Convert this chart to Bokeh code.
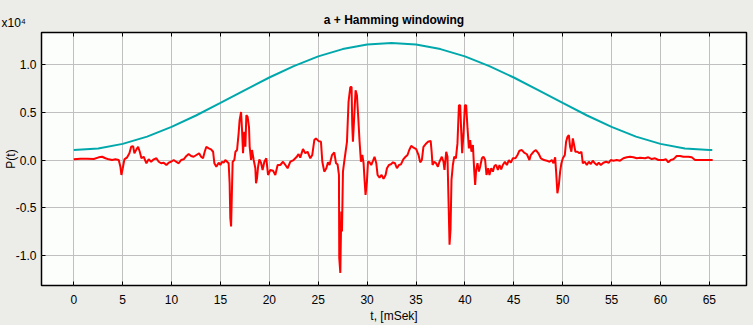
from bokeh.plotting import figure
from bokeh.models import Range1d, FixedTicker, CustomJSTickFormatter, LinearAxis, Title
from bokeh.embed import file_html
from bokeh.resources import INLINE

# ---- data ----
x_ticks = [0, 5, 10, 15, 20, 25, 30, 35, 40, 45, 50, 55, 60, 65]
y_ticks = [-10000, -5000, 0, 5000, 10000]

# Hamming window envelope
t_win = [0, 2.5, 5, 7.5, 10, 12.5, 15, 17.5, 20, 22.5, 25, 27.5, 30, 32.5,
         35, 37.5, 40, 42.5, 45, 47.5, 50, 52.5, 55, 57.5, 60, 62.5, 65, 65.3]
p_win = [1040, 1200, 1680, 2440, 3450, 4640, 5950, 7290, 8600, 9790, 10800, 11560, 12040, 12200,
         12040, 11560, 10800, 9790, 8600, 7290, 5950, 4640, 3450, 2440, 1680, 1200, 1040, 1040]

# windowed signal in segments
t_a = [0.00, 0.68, 1.37, 2.04, 2.55, 2.90, 3.24, 3.58, 3.92, 4.26,
       4.60, 4.77, 4.87, 5.01, 5.18, 5.46, 5.69, 5.87, 6.07, 6.20,
       6.41, 6.58, 6.75, 6.92, 7.15, 7.43, 7.66, 7.91, 8.18, 8.45,
       8.69, 8.93, 9.20, 9.47, 9.71, 9.95, 10.22, 10.46, 10.73, 10.98,
       11.24, 11.52, 11.75, 12.00, 12.26, 12.54, 12.82, 13.02, 13.22, 13.39,
       13.56, 13.80, 14.04, 14.25, 14.38, 14.58, 14.82, 14.99, 15.17, 15.33,
       15.50, 15.68, 15.84]
p_a = [70, 130, 130, 100, 280, 340, 180, 70, 0, 70,
       0, -700, -1560, -860, 70, 280, 700, 1380, 1450, 700,
       1110, 1380, 860, 180, 340, -340, 70, -180, 70, 180,
       -180, -340, -280, -520, -280, -180, 0, -180, -340, 0,
       70, 420, 620, 420, 340, 520, 700, 340, 180, 860,
       1380, 1210, 1110, 860, -340, -700, -280, -520, -180, -280,
       0, -180, -340]

t_b = [15.94, 16.01, 16.09, 16.19, 16.25, 16.42, 16.53, 16.70, 16.86, 16.96,
       17.11, 17.21, 17.31, 17.44, 17.55, 17.65, 17.78, 17.92, 17.99, 18.13,
       18.23, 18.40, 18.57, 18.64, 18.74, 18.85, 18.98, 19.15, 19.31, 19.49,
       19.69, 19.87, 20.10, 20.38, 20.61, 20.85, 21.12, 21.40, 21.64, 21.87,
       22.15, 22.48, 22.76, 22.99, 23.16]
p_b = [-2420, -6050, -6920, -2600, -180, 0, 860, 1040, 2770, 4150,
       5010, 3110, 700, 2940, 1380, 4670, 4500, 3460, 1380, 0,
       1040, 0, -860, -2420, -1900, -700, 70, -280, -1040, -180,
       180, -1560, -1040, -1110, -1560, -520, -520, -180, -520, -860,
       -180, 0, 280, 620, 250]

t_c = [23.44, 23.68, 23.91, 24.19, 24.39, 24.60, 24.77, 25.04, 25.28, 25.42,
       25.62, 25.83, 26.00, 26.16, 26.41, 26.64, 26.82, 26.98, 27.12, 27.15,
       27.26, 27.36, 27.43, 27.53, 27.66, 27.80, 27.94, 28.10, 28.28, 28.41,
       28.48, 28.55, 28.69, 28.82, 28.96, 29.10, 29.23, 29.37, 29.51, 29.64,
       29.74, 29.84, 29.98, 30.09, 30.25, 30.42, 30.60, 30.76, 30.94, 31.07,
       31.27, 31.48, 31.68, 31.89, 32.03, 32.23, 32.44, 32.64, 32.85, 33.05,
       33.26, 33.46, 33.72, 33.93, 34.13, 34.31, 34.51, 34.75, 35.02, 35.26,
       35.43]
p_c = [1140, 700, 860, 180, 520, 2080, 2250, 1970, 1900, -180,
       -1210, -860, -240, -520, 520, 800, -340, -450, -1560, -10210,
       -11770, -5370, -7440, -1210, -180, 860, 1900, 6050, 7610, 7610,
       3630, 1900, 4670, 7270, 6750, 4330, 1900, -180, 520, -340,
       -2080, -3630, -2250, -180, -240, -520, -100, 340, -340, -1560,
       -1840, -1560, -1970, -1560, -860, -520, -450, -240, -340, -860,
       -520, -450, 100, 340, 520, 1040, 1480, 1280, 1140, 520,
       -240]

t_d = [35.60, 35.76, 35.99, 36.23, 36.50, 36.60, 36.69, 36.86, 37.06, 37.24,
       37.40, 37.64, 37.81, 37.91, 38.09, 38.22, 38.32, 38.43, 38.53, 38.63,
       38.77, 38.91, 39.08, 39.24, 39.39, 39.52, 39.62, 39.72, 39.86, 40.00,
       40.13, 40.27, 40.41, 40.54, 40.67, 40.82, 40.95, 41.05, 41.15, 41.29,
       41.43, 41.56, 41.74, 41.90, 42.07, 42.21, 42.38, 42.51, 42.69, 42.86,
       43.02, 43.20, 43.37, 43.54, 43.71, 43.88, 44.09, 44.29, 44.50, 44.70,
       44.91, 45.17, 45.38, 45.58, 45.83, 46.06, 46.34, 46.60]
p_d = [0, 1380, 1660, 1900, 2000, 860, -520, -180, -340, -700,
       -180, 340, -180, -1040, 860, 340, -3980, -8830, -7270, -2080,
       -520, 340, 180, 1730, 5710, 5710, 3110, 700, 2770, 5710,
       5710, 3290, 1210, 2080, 860, 1560, -1040, -2600, -1040, -340,
       -1210, -700, 180, 340, 0, -1560, -860, -1560, -860, -1210,
       -620, -520, -1040, -520, -970, -520, -180, -520, 0, -280,
       180, 180, 520, 970, 1040, 760, 600, 0]

t_e = [46.74, 47.01, 47.26, 47.52, 47.77, 48.10, 48.38, 48.65, 48.89, 49.06,
       49.23, 49.33, 49.46, 49.61, 49.74, 49.87, 50.02, 50.22, 50.35, 50.49,
       50.63, 50.76, 50.89, 51.04, 51.17, 51.30, 51.51, 51.71, 51.92, 52.06,
       52.26, 52.47, 52.67, 52.88, 53.08, 53.29, 53.49, 53.69, 53.90, 54.16,
       54.44, 54.72, 54.92, 55.19, 55.53, 55.87, 56.21, 56.56, 56.89, 57.23,
       57.58, 57.92]
p_e = [520, 860, 1040, 700, 180, 0, -70, -180, 0, -340,
       280, -1210, -3460, -2600, -1210, -340, 180, 520, 1900, 2420,
       2600, 1380, 860, 2250, 1560, 860, 860, 700, 860, -340,
       -180, -520, -180, -420, -70, -340, -520, -280, -520, -280,
       -180, -280, 0, -70, 0, -70, 180, 280, 340, 280,
       180, 230]

t_f = [58.43, 58.76, 59.11, 59.45, 59.79, 60.30, 60.57, 60.80, 61.05, 61.32,
       61.66, 62.00, 62.34, 62.85, 63.20, 63.54, 64.38, 65.34]
p_f = [180, 280, 100, 180, 0, 0, 70, -240, 0, 70,
       420, 420, 340, 340, 280, 0, 0, 0]

t_sig = t_a + t_b + t_c + t_d + t_e + t_f
p_sig = p_a + p_b + p_c + p_d + p_e + p_f

title_text = "a + Hamming windowing"
scale_text = "x10\u2074"
y_label = "P(t)"
x_label = "t, [mSek]"

FONT = "Liberation Sans"
BG = "#ecece9"
W, H = 753, 325

p = figure(width=W, height=H, output_backend="svg", toolbar_location=None,
           x_range=Range1d(-3.3, 68.8), y_range=Range1d(-13080, 13290),
           min_border_left=41, min_border_right=7, min_border_top=32, min_border_bottom=39,
           background_fill_color="#fcfefc", border_fill_color=BG, title=None)

p.outline_line_color = "black"
p.outline_line_width = 1.5

p.grid.grid_line_color = "#c0c0c0"
p.grid.grid_line_width = 1

fmt_y = CustomJSTickFormatter(code="return (tick/1e4).toFixed(1);")
blank = CustomJSTickFormatter(code="return '';")

top_ax = LinearAxis()
right_ax = LinearAxis()
p.add_layout(top_ax, "above")
p.add_layout(right_ax, "right")

# stacked (inner -> outer) title rows above the frame; small/negative standoffs
# let the scale note and the title share one visual row
spacer = Title(text=" ", standoff=-8, text_font=FONT, text_font_size="12px")
scale_t = Title(text=scale_text, align="left", offset=-40, vertical_align="middle",
                standoff=-12, text_font=FONT, text_font_size="12px",
                text_font_style="normal", text_color="black")
main_t = Title(text=title_text, align="center", vertical_align="middle",
               standoff=-15, text_font=FONT, text_font_size="12px",
               text_font_style="bold", text_color="black")
p.add_layout(spacer, "above")
p.add_layout(scale_t, "above")
p.add_layout(main_t, "above")

for ax in p.xaxis:
    ax.ticker = FixedTicker(ticks=x_ticks)
for ax in p.yaxis:
    ax.ticker = FixedTicker(ticks=y_ticks)

for ax in p.axis:
    ax.axis_line_color = None
    ax.major_tick_in = 4
    ax.major_tick_out = 0
    ax.major_tick_line_color = "black"
    ax.major_tick_line_width = 1
    ax.minor_tick_line_color = None
    ax.major_label_text_font = FONT
    ax.major_label_text_font_size = "12px"
    ax.major_label_text_color = "black"

bx = p.below[0]
bx.major_label_standoff = 9
bx.axis_label = x_label
bx.axis_label_text_font = FONT
bx.axis_label_text_font_size = "12px"
bx.axis_label_text_font_style = "normal"
bx.axis_label_text_color = "black"
bx.axis_label_standoff = 2

ly = p.left[0]
ly.formatter = fmt_y
ly.major_label_standoff = 5
ly.axis_label = y_label
ly.axis_label_text_font = FONT
ly.axis_label_text_font_size = "12px"
ly.axis_label_text_font_style = "normal"
ly.axis_label_text_color = "black"
ly.axis_label_standoff = -5

top_ax.formatter = blank
top_ax.major_label_standoff = 0
right_ax.formatter = blank
right_ax.major_label_standoff = 0

p.line(t_win, p_win, line_color="#00a8ac", line_width=2)
p.line(t_sig, p_sig, line_color="#ff0000", line_width=2)

html = file_html(p, INLINE, title=title_text)
html = html.replace("</head>", "<style>body{background:%s;}</style></head>" % BG, 1)
open("out.html", "w").write(html)
